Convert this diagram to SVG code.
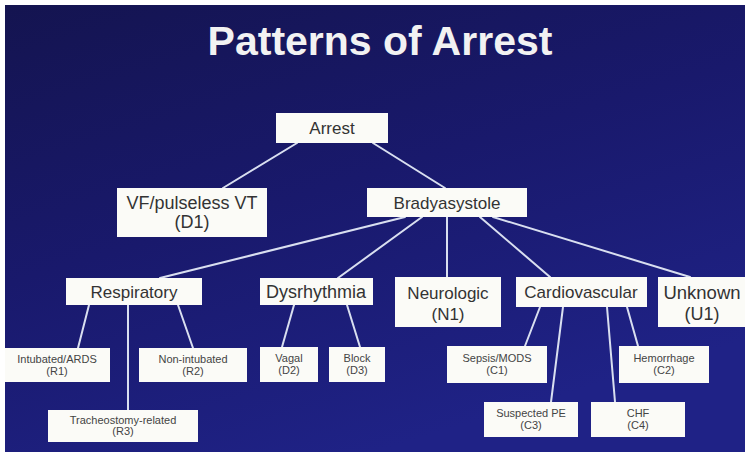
<svg xmlns="http://www.w3.org/2000/svg" width="745" height="452" viewBox="0 0 745 452">
<defs>
<linearGradient id="bg" x1="0" y1="0" x2="0.5" y2="1">
<stop offset="0" stop-color="#141450"/>
<stop offset="0.5" stop-color="#19196c"/>
<stop offset="1" stop-color="#1f2286"/>
</linearGradient>
<style>
.box{fill:#fbfbf7;stroke:none}
.t{font-family:"Liberation Sans",Arial,sans-serif;fill:#333;text-anchor:middle}
.m{font-size:17px}
.s{font-size:11px;fill:#444}
.c line{stroke:#d9dff0;stroke-width:2;stroke-linecap:round}
.title{font-family:"Liberation Sans",Arial,sans-serif;font-weight:bold;font-size:41px;fill:#f2f2f2;text-anchor:middle}
</style>
</defs>
<rect x="0" y="0" width="745" height="452" fill="#ffffff"/>
<rect x="5" y="5" width="740" height="447" fill="url(#bg)"/>
<text class="title" x="380" y="55">Patterns of Arrest</text>

<g class="c" id="connectors">
<line x1="297" y1="143" x2="223" y2="188"/>
<line x1="373" y1="143" x2="445" y2="188"/>
<line x1="405" y1="217" x2="160" y2="278"/>
<line x1="422" y1="217" x2="338" y2="278"/>
<line x1="447" y1="217" x2="447" y2="277"/>
<line x1="480" y1="217" x2="550" y2="277"/>
<line x1="493" y1="217" x2="690" y2="277"/>
<line x1="89" y1="305" x2="78" y2="348"/>
<line x1="128" y1="305" x2="128" y2="410"/>
<line x1="178" y1="305" x2="193" y2="348"/>
<line x1="294" y1="305" x2="282" y2="347"/>
<line x1="347" y1="305" x2="360" y2="347"/>
<line x1="540" y1="307" x2="525" y2="346"/>
<line x1="563" y1="307" x2="551" y2="402"/>
<line x1="607" y1="307" x2="615" y2="402"/>
<line x1="627" y1="307" x2="638" y2="346"/>
</g>

<g id="arrest"><rect class="box" x="276" y="113" width="112" height="30"/><text class="t m" x="332" y="134">Arrest</text></g>
<g id="vf"><rect class="box" x="117" y="188" width="150" height="49"/><text class="t" style="font-size:18px" x="192" y="209">VF/pulseless VT</text><text class="t" style="font-size:18px" x="192" y="228">(D1)</text></g>
<g id="brady"><rect class="box" x="367" y="188" width="160" height="29"/><text class="t m" x="447" y="209">Bradyasystole</text></g>
<g id="resp"><rect class="box" x="66" y="278" width="136" height="27"/><text class="t m" x="134" y="298">Respiratory</text></g>
<g id="dys"><rect class="box" x="260" y="278" width="113" height="27"/><text class="t" style="font-size:18px" x="316" y="298">Dysrhythmia</text></g>
<g id="neuro"><rect class="box" x="395" y="277" width="106" height="50"/><text class="t m" x="448" y="299">Neurologic</text><text class="t m" x="448" y="320">(N1)</text></g>
<g id="cardio"><rect class="box" x="516" y="277" width="131" height="30"/><text class="t m" x="581" y="298">Cardiovascular</text></g>
<g id="unknown"><rect class="box" x="658" y="277" width="87" height="50"/><text class="t" style="font-size:18.5px" x="702" y="299">Unknown</text><text class="t" style="font-size:18px" x="702" y="320">(U1)</text></g>

<g id="r1"><rect class="box" x="5" y="348" width="105" height="34"/><text class="t s" x="57" y="363">Intubated/ARDS</text><text class="t s" x="57" y="375">(R1)</text></g>
<g id="r2"><rect class="box" x="139" y="348" width="108" height="34"/><text class="t s" x="193" y="363">Non-intubated</text><text class="t s" x="193" y="375">(R2)</text></g>
<g id="r3"><rect class="box" x="48" y="410" width="150" height="32"/><text class="t s" x="123" y="424">Tracheostomy-related</text><text class="t s" x="123" y="435">(R3)</text></g>
<g id="d2"><rect class="box" x="260" y="347" width="58" height="35"/><text class="t s" x="289" y="362">Vagal</text><text class="t s" x="289" y="374">(D2)</text></g>
<g id="d3"><rect class="box" x="329" y="347" width="56" height="35"/><text class="t s" x="357" y="362">Block</text><text class="t s" x="357" y="374">(D3)</text></g>
<g id="c1"><rect class="box" x="447" y="346" width="100" height="37"/><text class="t s" x="497" y="362">Sepsis/MODS</text><text class="t s" x="497" y="374">(C1)</text></g>
<g id="c2"><rect class="box" x="619" y="346" width="90" height="37"/><text class="t s" x="664" y="362">Hemorrhage</text><text class="t s" x="664" y="374">(C2)</text></g>
<g id="c3"><rect class="box" x="484" y="402" width="94" height="35"/><text class="t s" x="531" y="417">Suspected PE</text><text class="t s" x="531" y="429">(C3)</text></g>
<g id="c4"><rect class="box" x="591" y="402" width="94" height="35"/><text class="t s" x="638" y="417">CHF</text><text class="t s" x="638" y="429">(C4)</text></g>
</svg>
